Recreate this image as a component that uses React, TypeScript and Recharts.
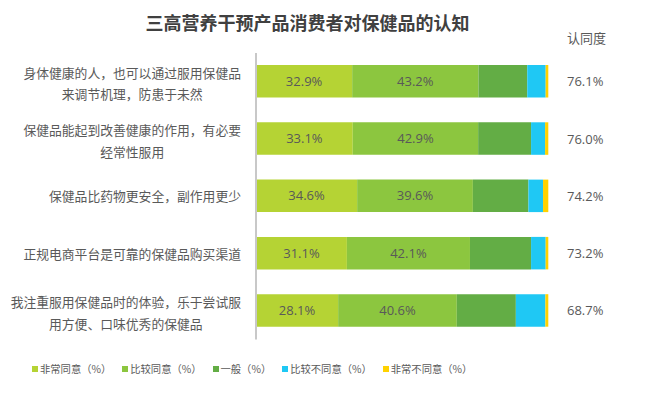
import React from 'react';
import { BarChart, Bar, XAxis, YAxis, LabelList } from 'recharts';

const categories = [
  '身体健康的人，也可以通过服用保健品\n来调节机理，防患于未然',
  '保健品能起到改善健康的作用，有必要\n经常性服用',
  '保健品比药物更安全，副作用更少',
  '正规电商平台是可靠的保健品购买渠道',
  '我注重服用保健品时的体验，乐于尝试服\n用方便、口味优秀的保健品',
];
const stronglyAgree = [32.9, 33.1, 34.6, 31.1, 28.1];
const agree = [43.2, 42.9, 39.6, 42.1, 40.6];
const neutral = [16.7, 18.1, 19.0, 20.9, 20.2];
const disagree = [6.3, 4.8, 5.0, 5.0, 10.1];
const stronglyDisagree = [0.9, 1.1, 1.8, 0.9, 1.0];
const approval = ['76.1%', '76.0%', '74.2%', '73.2%', '68.7%'];

const seriesKeys = ['s1', 's2', 's3', 's4', 's5'];
const seriesNames = ['非常同意（%）', '比较同意（%）', '一般（%）', '比较不同意（%）', '非常不同意（%）'];
const seriesColors = ['#b5d334', '#8cc63f', '#63ad45', '#1fc8f4', '#ffd200'];
const seriesValues = [stronglyAgree, agree, neutral, disagree, stronglyDisagree];

const data = categories.map((c, i) => {
  const row: any = { name: c, approval: approval[i] };
  seriesKeys.forEach((k, j) => {
    row[k] = seriesValues[j][i];
  });
  return row;
});

const FONT = "'Open Sans','Noto Sans CJK SC',sans-serif";
const TEXT = '#595959';

const CategoryTick = (props: any) => {
  const { y, payload } = props;
  const lines = String(payload.value).split('\n');
  const fs = 12.8;
  const maxLen = Math.max(...lines.map((l) => l.length));
  const right = 241;
  const cx = right - (maxLen * fs) / 2;
  const lh = 21.7;
  const off = lines.length > 1 ? 1.8 : 0;
  return (
    <g>
      {lines.map((l, i) => (
        <text
          key={i}
          x={cx}
          y={y + (i - (lines.length - 1) / 2) * lh + off}
          textAnchor="middle"
          dominantBaseline="central"
          fontSize={fs}
          fontFamily={FONT}
          fill={TEXT}
        >
          {l}
        </text>
      ))}
    </g>
  );
};

const ApprovalLabel = (p: any) => (
  <text
    x={567}
    y={p.y + p.height / 2}
    dominantBaseline="central"
    fontSize={13}
    fontFamily={FONT}
    fill={TEXT}
  >
    {p.value}
  </text>
);

export default function App() {
  return (
    <div style={{ position: 'absolute', left: 0, top: 0, width: 657, height: 396, background: '#fff', fontFamily: FONT }}>
      <div
        style={{
          position: 'absolute',
          left: 0,
          width: 615,
          top: 11,
          textAlign: 'center',
          fontSize: 18,
          fontWeight: 'bold',
          lineHeight: '22px',
          color: '#404040',
          fontFamily: "'Noto Sans CJK SC',sans-serif",
        }}
      >
        三高营养干预产品消费者对保健品的认知
      </div>
      <div style={{ position: 'absolute', left: 567, top: 30, fontSize: 13, lineHeight: '16px', color: TEXT }}>认同度</div>
      <BarChart
        width={657}
        height={396}
        data={data}
        layout="vertical"
        margin={{ top: 53, right: 108.7, left: 0, bottom: 56.5 }}
        barSize={32.5}
      >
        <XAxis type="number" domain={[0, 100]} hide />
        <YAxis
          type="category"
          dataKey="name"
          width={256}
          axisLine={{ stroke: '#c8c8c8', strokeWidth: 2 }}
          tickLine={false}
          tick={<CategoryTick />}
          interval={0}
        />
        {seriesKeys.map((k, j) => (
          <Bar key={k} dataKey={k} name={seriesNames[j]} stackId="a" fill={seriesColors[j]} isAnimationActive={false}>
            {j < 2 && (
              <LabelList
                dataKey={k}
                position="center"
                formatter={(v: any) => `${v}%`}
                fill={TEXT}
                fontSize={13}
                fontFamily={FONT}
              />
            )}
            {j === seriesKeys.length - 1 && <LabelList dataKey="approval" content={<ApprovalLabel />} />}
          </Bar>
        ))}
      </BarChart>
      <div style={{ position: 'absolute', left: 32, top: 362, display: 'flex', alignItems: 'center' }}>
        {seriesNames.map((n, j) => (
          <div key={n} style={{ display: 'flex', alignItems: 'center', marginRight: 11 }}>
            <span style={{ display: 'inline-block', width: 6, height: 6, background: seriesColors[j], marginRight: 2 }} />
            <span style={{ fontSize: 10.3, lineHeight: '14px', color: TEXT, fontFamily: "'Noto Sans CJK SC',sans-serif" }}>{n}</span>
          </div>
        ))}
      </div>
    </div>
  );
}
